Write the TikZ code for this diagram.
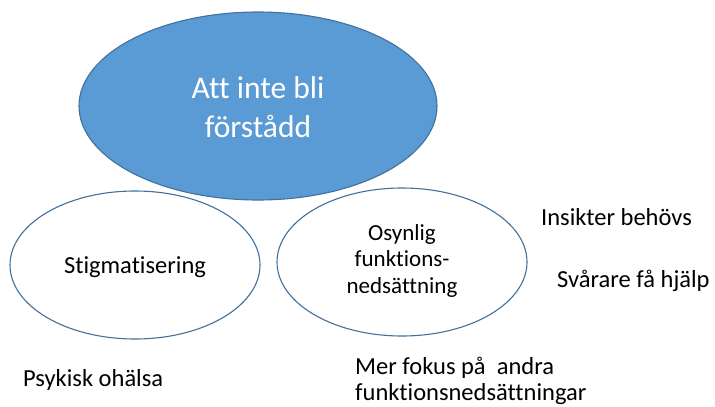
\documentclass[tikz,border=0pt]{standalone}
\usepackage{fontspec}
\setmainfont[Ligatures={NoCommon,NoRequired,NoContextual}]{Carlito}
\usetikzlibrary{shapes.geometric}
\definecolor{ofill}{HTML}{5B9BD5}
\definecolor{oline}{HTML}{41719C}
\tikzset{
  oval/.style={ellipse, draw=oline, line width=1.1pt, inner sep=0pt},
  txt/.style={inner sep=0pt, text=black, font=\fontsize{24.5}{28.5}\selectfont},
}
\begin{document}
\begin{tikzpicture}[x=1pt,y=-1pt]
\useasboundingbox[fill=white] (0,0) rectangle (715,407);
\node[oval, fill=ofill, minimum width=358pt, minimum height=188pt] (main) at (258,106) {};
\node[oval, fill=white, minimum width=250pt, minimum height=148pt] (stig) at (135,265) {};
\node[oval, fill=white, minimum width=250pt, minimum height=148pt] (osyn) at (402,262) {};
\node[txt, text=white, anchor=base, font=\fontsize{31.5}{39}\selectfont] (t1) at (258,98) {Att inte bli};
\node[txt, text=white, anchor=base, font=\fontsize{31.5}{39}\selectfont] (t2) at (258,137) {förstådd};
\node[txt, anchor=base] (s1) at (135,273) {Stigmatisering};
\node[txt, anchor=base, font=\fontsize{23}{26.5}\selectfont] (o1) at (402,240) {Osynlig};
\node[txt, anchor=base, font=\fontsize{23}{26.5}\selectfont] (o2) at (402,266.5) {funktions-};
\node[txt, anchor=base, font=\fontsize{23}{26.5}\selectfont] (o3) at (402,293) {nedsättning};
\node[txt, anchor=base west] (ins) at (541,225) {Insikter behövs};
\node[txt, anchor=base west] (sva) at (557,287) {Svårare få hjälp};
\node[txt, anchor=base west] (psy) at (23,386) {Psykisk ohälsa};
\node[txt, anchor=base west] (mer1) at (355,374) {Mer fokus på\ \ andra};
\node[txt, anchor=base west] (mer2) at (355,400) {funktionsnedsättningar};
\end{tikzpicture}
\end{document}
